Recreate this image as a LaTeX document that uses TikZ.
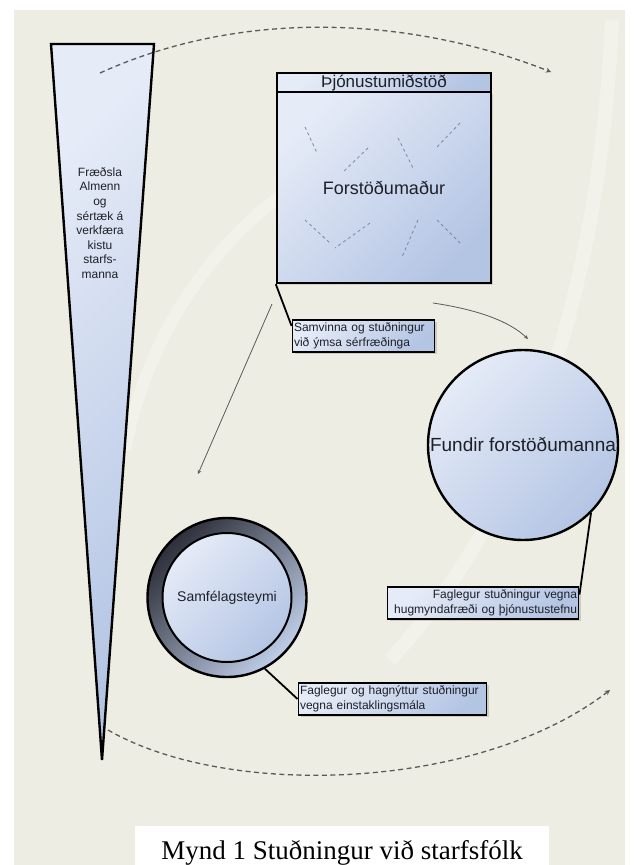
\documentclass[tikz,border=0pt]{standalone}
\usepackage{fontspec}
\setmainfont{Liberation Sans}
\newfontfamily\capfont{Liberation Serif}
\usetikzlibrary{arrows,shapes,positioning,shadows}
\definecolor{bgbeige}{RGB}{237,237,227}
\definecolor{palebl}{RGB}{229,235,247}
\definecolor{midbl}{RGB}{180,197,228}
\definecolor{inkgray}{RGB}{30,32,40}
\definecolor{ringdark}{RGB}{45,47,57}
\definecolor{dashgray}{RGB}{90,90,90}
\definecolor{sketchbl}{RGB}{120,136,168}
\tikzstyle{pale} = [draw=black, line width=2.4pt, top color=palebl, bottom color=midbl, shading angle=45, text=inkgray]
\tikzstyle{notebox} = [pale, line width=1.9pt, inner sep=1.5pt, minimum height=32pt, font=\fontsize{12}{15}\selectfont, drop shadow={shadow xshift=2pt, shadow yshift=-2pt, opacity=0.3}]
\tikzstyle{leader} = [draw=black, line width=1.8pt]
\tikzstyle{flow} = [->, >=stealth, draw=dashgray, line width=0.8pt]
\tikzstyle{cyclearc} = [->, >=stealth, draw=dashgray, line width=1.3pt, dash pattern=on 5pt off 3.5pt]
\begin{document}
\begin{tikzpicture}[x=1pt,y=-1pt]
\useasboundingbox (0,0) rectangle (633,865);
% backdrop
\fill[white] (0,0) rectangle (633,865);
\fill[bgbeige] (14,10) rectangle (625,865);
\draw[white, line width=14pt, opacity=0.3] (612,20) .. controls (600,300) and (520,520) .. (390,660);
\draw[white, line width=12pt, opacity=0.3] (320,170) .. controls (230,220) and (150,320) .. (125,450);
\fill[white] (135,826) rectangle (549,865);

% training wedge
\coordinate (wl) at (51,44);
\coordinate (wr) at (154,44);
\coordinate (wtip) at (102,760);
\path[pale] (wl) -- (wr) -- (wtip) -- cycle;
\node (kista) at (100,223) [align=center, font=\fontsize{12}{14.6}\selectfont, text=inkgray] {Fræðsla\\Almenn\\og\\sértæk á\\verkfæra\\kistu\\starfs-\\manna};

% dashed cycle
\coordinate (top_start) at (100,73);
\coordinate (top_end) at (551,72);
\draw[cyclearc] (top_start) .. controls (250,5) and (420,20) .. (top_end);
\coordinate (low_start) at (108,730);
\coordinate (low_end) at (610,690);
\draw[cyclearc] (low_start) .. controls (230,800) and (480,790) .. (low_end);

% service centre
\node (midstod) at (384,187.5) [pale, minimum width=214pt, minimum height=191pt, font=\fontsize{18}{18}\selectfont, drop shadow={shadow xshift=2pt, shadow yshift=-2pt, opacity=0.25}] {Forstöðumaður};
\node (midstod_head) at (384,82.5) [pale, minimum width=214pt, minimum height=19pt, inner sep=0pt, font=\fontsize{17}{17}\selectfont] {Þjónustumiðstöð};
\draw[sketchbl, dashed, line width=0.8pt] (305,127) -- (317,153) (368,148) -- (343,172)
  (398,138) -- (413,168) (460,123) -- (437,147) (305,220) -- (330,243)
  (370,223) -- (335,248) (418,220) -- (402,257) (437,220) -- (460,243);

% meetings
\node (fundir) at (523,445) [circle, pale, minimum size=190pt, inner sep=0pt, font=\fontsize{19}{19}\selectfont] {Fundir forstöðumanna};

% community team
\node (samf_ring) at (227,597.5) [circle, draw=black, line width=2.4pt, top color=ringdark, bottom color=midbl!85!white, shading angle=45, minimum size=159pt] {};
\node (samf) at (samf_ring) [circle, pale, line width=2pt, minimum size=129pt, inner sep=0pt, font=\fontsize{14}{14}\selectfont] {Samfélagsteymi};

% notes
\node (samvinna) at (363.5,336) [notebox, text width=139pt, align=left] {Samvinna og stuðningur\\við ýmsa sérfræðinga};
\node (fagl_fundir) at (483,603) [notebox, text width=188pt, align=right] {Faglegur stuðningur vegna\\hugmyndafræði og þjónustustefnu};
\node (fagl_samf) at (392.5,699) [notebox, text width=185pt, align=left] {Faglegur og hagnýttur stuðningur\\vegna einstaklingsmála};

\draw[leader] (midstod.south west) -- (samvinna.172);
\draw[leader] (fundir.-45) -- (fagl_fundir.5);
\draw[leader] (samf_ring.-62) -- (fagl_samf.west);

% flow arrows
\coordinate (from_mid) at (272,304);
\coordinate (to_samf) at (198,474);
\draw[flow] (from_mid) -- (to_samf);
\coordinate (from_note) at (433,303);
\coordinate (to_fundir) at (528,339);
\draw[flow] (from_note) .. controls (480,310) and (510,322) .. (to_fundir);

% caption
\node (mynd) at (342,859) [anchor=base, font=\capfont\fontsize{27}{27}\selectfont] {Mynd 1 Stuðningur við starfsfólk};
\end{tikzpicture}
\end{document}
